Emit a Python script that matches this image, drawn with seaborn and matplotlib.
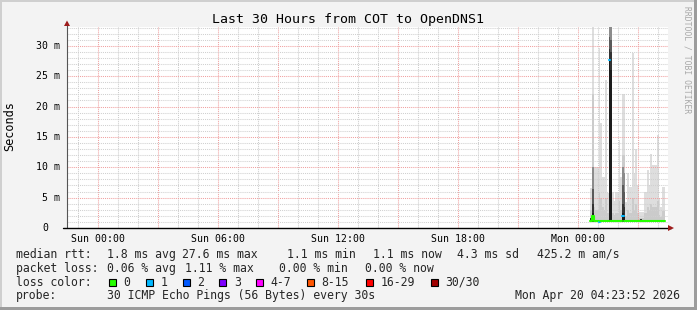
import numpy as np
import matplotlib
matplotlib.use("Agg")
import matplotlib.pyplot as plt
import seaborn as sns
from matplotlib.lines import Line2D
from matplotlib.patches import Rectangle, Polygon

# ---------------- data ----------------
title = "Last 30 Hours from COT to OpenDNS1"
y_label = "Seconds"
x_tick_hours = [0, 6, 12, 18, 24]
x_tick_labels = ["Sun 00:00", "Sun 06:00", "Sun 12:00", "Sun 18:00", "Mon 00:00"]
y_ticks = [0, 5, 10, 15, 20, 25, 30]
y_tick_labels = ["0", "5 m", "10 m", "15 m", "20 m", "25 m", "30 m"]

start_hour = 24.6          # hours after Sun 00:00
step_minutes = 5
smoke_min = 1.0            # ms
smoke_max = [6.6, 33.5, 10, 10, 10, 29.6, 17.3, 8.4, 8.4, 24.4,
             5.7, 33.5, 33.5, 5.9, 4.5, 5.9, 5.9, 14.5, 8.4, 22.0,
             22.0, 4.2, 9.0, 6.8, 6.8, 28.8, 9.0, 13.0, 7.0, 2.6,
             2.6, 2.6, 5.9, 5.9, 9.5, 7.0, 12.2, 10.4, 10.4, 10.4,
             15.3, 5.0, 3.5, 6.8, 6.8]
smoke_mid = [3.0, 22.0, 3.5, 3.0, 3.0, 6.0, 5.0, 3.5, 3.0, 5.0,
             2.5, 5.0, 5.0, 2.5, 2.2, 2.5, 2.5, 4.5, 3.0, 12.0,
             12.0, 2.0, 3.0, 2.5, 2.5, 5.0, 3.0, 4.0, 2.5, 1.6,
             1.6, 1.6, 2.5, 2.5, 3.5, 3.0, 4.0, 3.5, 3.5, 3.5,
             4.5, 2.2, 1.8, 2.8, 2.8]
dark1 = [0, 10.0, 0, 0, 0, 0, 0, 0, 0, 0, 0, 33.5, 33.5, 0, 0, 0, 0, 0, 0, 10.0,
         9.0, 0, 0, 0, 0, 0, 0, 0, 0, 0, 0, 0, 0, 0, 0, 0, 0, 0, 0, 0, 0, 0, 0, 0, 0]
dark2 = [0, 6.5, 0, 0, 0, 0, 0, 0, 0, 0, 0, 31.5, 31.0, 0, 0, 0, 0, 0, 0, 7.0,
         6.0, 0, 0, 0, 0, 0, 0, 0, 0, 0, 0, 0, 0, 0, 0, 0, 0, 0, 0, 0, 0, 0, 0, 0, 0]
dark3 = [1.6, 4.0, 0, 0, 0, 0, 0, 0, 0, 0, 0, 29.5, 29.0, 0, 0, 0, 0, 0, 0, 4.0,
         3.5, 0, 0, 0, 0, 0, 0, 0, 0, 0, 1.4, 0, 0, 0, 0, 0, 0, 0, 0, 0, 0, 0, 0, 0, 0]
dark4 = [0, 2.5, 0, 0, 0, 0, 0, 0, 0, 0, 0, 27.6, 26.0, 0, 0, 0, 0, 0, 0, 2.5,
         2.0, 0, 0, 0, 0, 0, 0, 0, 0, 0, 0, 0, 0, 0, 0, 0, 0, 0, 0, 0, 0, 0, 0, 0, 0]
median_ms = [1.1, 1.9, 1.1, 1.1, 1.1, 1.0, 1.1, 1.1, 1.1, 1.1,
             1.1, 27.6, 1.1, 1.1, 1.1, 1.1, 1.1, 1.1, 1.1, 1.9,
             1.1, 1.1, 1.1, 1.1, 1.1, 1.1, 1.1, 1.1, 1.1, 1.1,
             1.1, 1.1, 1.1, 1.1, 1.1, 1.1, 1.1, 1.1, 1.1, 1.1,
             1.1, 1.1, 1.1, 1.1, 1.1]
loss_class = [0, 0, 0, 0, 0, 1, 0, 0, 0, 0,
              0, 1, 0, 0, 0, 0, 0, 0, 0, 1,
              0, 0, 0, 0, 0, 0, 0, 0, 0, 0,
              0, 0, 0, 0, 0, 0, 0, 0, 0, 0,
              0, 0, 0, 0, 0]

loss_labels = ["0", "1", "2", "3", "4-7", "8-15", "16-29", "30/30"]
loss_colors = ["#26ff00", "#00b8ff", "#0059ff", "#7e00ff", "#ff00ff",
               "#ff5500", "#ff0000", "#a10000"]

rtt_title = "median rtt:"
rtt_stats = ["1.8 ms avg", "27.6 ms max", "1.1 ms min", "1.1 ms now",
             "4.3 ms sd", "425.2 m am/s"]
loss_title = "packet loss:"
loss_stats = ["0.06 % avg", "1.11 % max", "0.00 % min", "0.00 % now"]
color_title = "loss color:"
probe_title = "probe:"
probe_text = "30 ICMP Echo Pings (56 Bytes) every 30s"
timestamp = "Mon Apr 20 04:23:52 2026"
watermark = "RRDTOOL / TOBI OETIKER"

# ---------------- layout ----------------
W, H = 697, 310
sns.set_theme(style="white")
plt.rcParams["font.family"] = ["DejaVu Sans Mono", "DejaVu Sans"]
MONO = "DejaVu Sans Mono"

fig = plt.figure(figsize=(W / 100, H / 100), dpi=100)
fig.patch.set_facecolor("#f3f3f3")


def fx(x):
    return x / W


def fy(y):
    return 1 - y / H


AX_L, AX_R, AX_T, AX_B = 67, 668, 27, 228
ax = fig.add_axes([fx(AX_L), fy(AX_B), (AX_R - AX_L) / W, (AX_B - AX_T) / H])
ax.set_facecolor("white")
px_per_hour = 20.0
x0_hour = (AX_L - 98.3) / px_per_hour
x1_hour = x0_hour + (AX_R - AX_L) / px_per_hour
ax.set_xlim(x0_hour, x1_hour)
ymax = 33.1
ax.set_ylim(0, ymax)
for s in ax.spines.values():
    s.set_visible(False)

# ---------------- smoke ----------------
n = len(smoke_max)
t = start_hour + np.arange(n + 1) * step_minutes / 60.0


def ext(a):
    a = np.asarray(a, dtype=float)
    return np.append(a, a[-1])


lower = np.full(n + 1, smoke_min)
light_layers = [(smoke_max, "#dedede"), (smoke_mid, "#cbcbcb")]
dark_layers = [(dark1, "#8c8c8c"), (dark2, "#5a5a5a"),
               (dark3, "#333333"), (dark4, "#1c1c1c")]
for vals, col in light_layers:
    up = np.maximum(ext(vals), lower)
    ax.fill_between(t, lower, up, step="post", color=col, lw=0, zorder=1)
for vals, col in dark_layers:
    up = np.maximum(ext(vals), lower)
    ax.fill_between(t, lower, up, step="post", color=col, lw=0, zorder=3)

# ---------------- grid ----------------
dot = (0, (1, 1))
for h in range(int(np.ceil(x0_hour)), int(np.floor(x1_hour)) + 1):
    major = h % 3 == 0
    ax.axvline(h, color="#f0a0a0" if major else "#cccccc", lw=0.75,
               linestyle=dot, zorder=2)
for v in range(1, int(ymax) + 1):
    major = v % 5 == 0
    ax.axhline(v, color="#f0a0a0" if major else "#d0d0d0", lw=0.75,
               linestyle=dot, zorder=2)

# ---------------- median line coloured by loss ----------------
med = np.asarray(median_ms, dtype=float)
lc = np.asarray(loss_class)
i = 0
while i < n:
    j = i
    while j + 1 < n and lc[j + 1] == lc[i]:
        j += 1
    xs = t[i:j + 2]
    ys = np.append(med[i:j + 1], med[j])
    sns.lineplot(x=xs, y=ys, ax=ax, color=loss_colors[lc[i]], lw=1.5,
                 drawstyle="steps-post", estimator=None, sort=False,
                 zorder=4)
    i = j + 1

# ---------------- axes, ticks ----------------
ax.set_xticks(x_tick_hours, x_tick_labels)
ax.tick_params(axis="x", length=0, pad=4.2, labelsize=7.1, labelcolor="black")
ax.set_yticks([])
ax.set_xlabel("")
ax.set_ylabel("")
for lab in ax.get_xticklabels():
    lab.set_fontfamily(MONO)
ytr = ax.get_yaxis_transform()
for v, lab in zip(y_ticks, y_tick_labels):
    off = 0 if lab != "0" else -12
    ax.text((60 + off - AX_L) / (AX_R - AX_L), v, lab, transform=ytr,
            ha="right", va="center", fontsize=7.1, family=MONO,
            color="black", clip_on=False)

# axis lines and arrows (figure pixel space)
fig.add_artist(Line2D([fx(67), fx(67)], [fy(228), fy(22)], color="#555555",
                      lw=0.8, zorder=5))
fig.add_artist(Line2D([fx(63), fx(671)], [fy(228), fy(228)], color="black",
                      lw=1.0, zorder=5))
arrow_col = "#9e1c1c"
fig.add_artist(Polygon([[fx(64), fy(26)], [fx(70), fy(26)], [fx(67), fy(20.5)]],
                       closed=True, color=arrow_col, lw=0, zorder=6))
fig.add_artist(Polygon([[fx(668), fy(225)], [fx(668), fy(231)], [fx(674), fy(228)]],
                       closed=True, color=arrow_col, lw=0, zorder=6))

# ---------------- texts ----------------
fig.text(fx(348), fy(19), title, ha="center", va="center", fontsize=9.5,
         family=MONO, color="black")
fig.text(fx(10), fy(126), y_label, ha="center", va="center", rotation=90,
         fontsize=8.6, family=MONO, color="black")
fig.text(fx(687), fy(60), watermark, ha="center", va="center", rotation=-90,
         fontsize=5.8, family=MONO, color="#a8a8a8")

LEG = 8.3
row_y = [254.3, 268.3, 282.3, 296.0]
fig.text(fx(16), fy(row_y[0]), rtt_title, va="center", fontsize=LEG, family=MONO)
for s, x in zip(rtt_stats, [107.3, 181.7, 286.7, 372.7, 457.3, 537.3]):
    fig.text(fx(x), fy(row_y[0]), s, va="center", fontsize=LEG, family=MONO)
fig.text(fx(16), fy(row_y[1]), loss_title, va="center", fontsize=LEG, family=MONO)
for s, x in zip(loss_stats, [107.3, 185.0, 279.3, 365.0]):
    fig.text(fx(x), fy(row_y[1]), s, va="center", fontsize=LEG, family=MONO)
fig.text(fx(16), fy(row_y[2]), color_title, va="center", fontsize=LEG, family=MONO)
box_x = [108.7, 145.7, 182.7, 219.3, 256.3, 307.0, 365.7, 431.0]
for lab, col, bx in zip(loss_labels, loss_colors, box_x):
    fig.add_artist(Rectangle((fx(bx), fy(row_y[2] + 3.6)), 7 / W, 7.2 / H,
                             facecolor=col, edgecolor="black", lw=0.8))
    fig.text(fx(bx + 14.5), fy(row_y[2]), lab, va="center", fontsize=LEG,
             family=MONO)
fig.text(fx(16), fy(row_y[3]), probe_title, va="center", fontsize=LEG, family=MONO)
fig.text(fx(107.3), fy(row_y[3]), probe_text, va="center", fontsize=LEG, family=MONO)
fig.text(fx(680), fy(row_y[3]), timestamp, va="center", ha="right",
         fontsize=LEG, family=MONO)

# ---------------- frame ----------------
fig.add_artist(Rectangle((0, fy(2)), 1, 2 / H, color="#cfcfcf", lw=0))
fig.add_artist(Rectangle((0, 0), 2 / W, 1, color="#cfcfcf", lw=0))
fig.add_artist(Rectangle((fx(694), 0), 3 / W, 1, color="#9c9c9c", lw=0))
fig.add_artist(Rectangle((0, 0), 1, 3 / H, color="#9c9c9c", lw=0))

fig.savefig("out.png", dpi=100, facecolor=fig.get_facecolor())
